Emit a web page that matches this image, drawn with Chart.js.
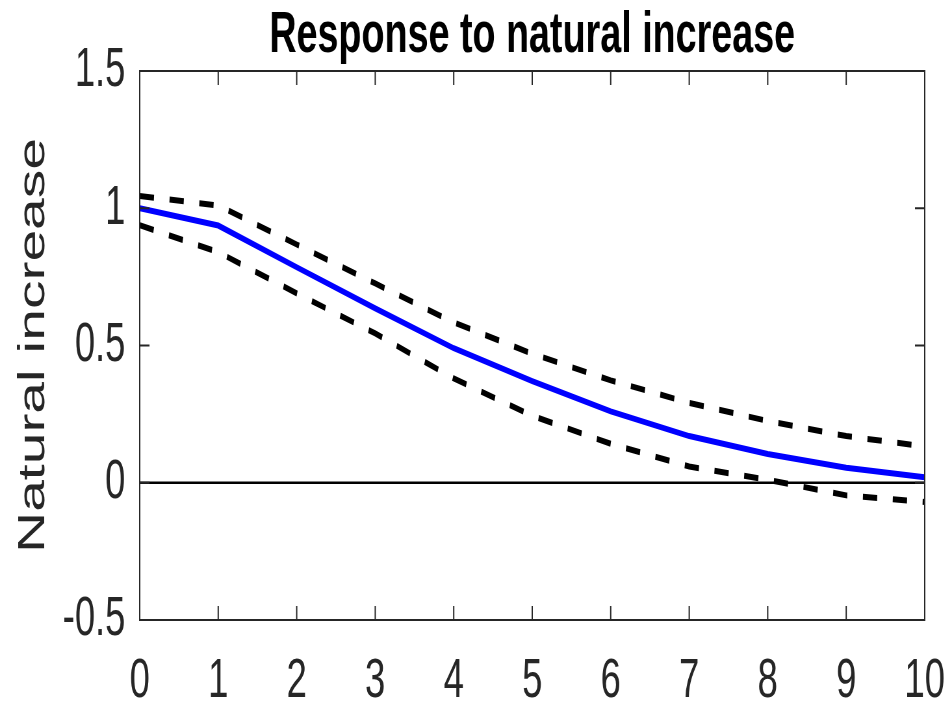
<!DOCTYPE html>
<html>
<head>
<meta charset="utf-8">
<script src="https://cdn.jsdelivr.net/npm/chart.js@4/dist/chart.umd.min.js"></script>
<style>
  html, body { margin: 0; padding: 0; background: #fff; overflow: hidden; }
</style>
</head>
<body>
<!-- the reference is squeezed sideways, so draw wide and shrink it -->
<canvas id="irf" width="1465" height="707" style="display:block;width:952px;height:707px"></canvas>
<script>
const horizon = [0, 1, 2, 3, 4, 5, 6, 7, 8, 9, 10];
const response = [1.0, 0.937, 0.785, 0.635, 0.49, 0.37, 0.26, 0.17, 0.105, 0.055, 0.02];
const upperBand = [1.045, 1.01, 0.868, 0.726, 0.584, 0.47, 0.373, 0.291, 0.225, 0.17, 0.132];
const lowerBand = [0.938, 0.84, 0.69, 0.544, 0.38, 0.244, 0.142, 0.059, 0.011, -0.046, -0.07];
const zeroLine = [0, 0, 0, 0, 0, 0, 0, 0, 0, 0, 0];
const xTicks = [0, 1, 2, 3, 4, 5, 6, 7, 8, 9, 10];
const xTickLabels = ['0', '1', '2', '3', '4', '5', '6', '7', '8', '9', '10'];
const yTicks = [-0.5, 0, 0.5, 1, 1.5];
const yTickLabels = ['-0.5', '0', '0.5', '1', '1.5'];

const chartTitle = 'Response to natural increase';
const yLabel = 'Natural increase';
const FONT = "'Liberation Sans', Arial, sans-serif";
const AXIS_COLOR = '#262626';

const toPoints = vals => horizon.map((h, i) => ({ x: h, y: vals[i] }));

// box round the plot, inward ticks on all sides, and the title
const matlabFrame = {
  id: 'matlabFrame',
  afterDatasetsDraw(chart) {
    const { ctx, chartArea: a, scales } = chart;
    const x = scales.x, y = scales.y;
    ctx.save();
    ctx.strokeStyle = AXIS_COLOR;
    ctx.lineWidth = 2;
    ctx.strokeRect(a.left, a.top, a.right - a.left, a.bottom - a.top);

    ctx.beginPath();
    xTicks.forEach(v => {
      const px = x.getPixelForValue(v);
      ctx.moveTo(px, a.bottom); ctx.lineTo(px, a.bottom - 14);
      ctx.moveTo(px, a.top); ctx.lineTo(px, a.top + 14);
    });
    yTicks.forEach(v => {
      const py = y.getPixelForValue(v);
      ctx.moveTo(a.left, py); ctx.lineTo(a.left + 15, py);
      ctx.moveTo(a.right, py); ctx.lineTo(a.right - 15, py);
    });
    ctx.stroke();

    ctx.fillStyle = '#000';
    ctx.font = 'bold 58px ' + FONT;
    ctx.textAlign = 'center';
    ctx.textBaseline = 'alphabetic';
    ctx.fillText(chartTitle, (a.left + a.right) / 2, 52);
    ctx.restore();
  }
};

const lineStyle = (color, width, dash) => ({
  borderColor: color,
  borderWidth: width,
  borderDash: dash,
  borderCapStyle: 'butt',
  pointRadius: 0,
  fill: false,
  tension: 0
});

new Chart(document.getElementById('irf'), {
  type: 'line',
  data: {
    datasets: [
      { label: 'zero', data: toPoints(zeroLine), ...lineStyle('#000', 2.5, []) },
      { label: 'upper', data: toPoints(upperBand), ...lineStyle('#000', 6, [22, 24]) },
      { label: 'lower', data: toPoints(lowerBand), ...lineStyle('#000', 6, [22, 24]) },
      { label: 'response', data: toPoints(response), ...lineStyle('#0000ff', 6, []) }
    ]
  },
  options: {
    responsive: false,
    animation: false,
    layout: { padding: { top: 71, right: 42, left: 0, bottom: 0 } },
    plugins: {
      legend: { display: false },
      tooltip: { enabled: false },
      title: { display: false }
    },
    scales: {
      x: {
        type: 'linear',
        min: 0,
        max: 10,
        afterBuildTicks: s => { s.ticks = xTicks.map(v => ({ value: v })); },
        afterFit: s => {
          s.height = 87;
          // the "10" label may hang past the plot edge, as in the reference
          s.paddingLeft = 0;
          s.paddingRight = 0;
        },
        grid: { display: false, drawTicks: false },
        border: { display: false },
        ticks: {
          padding: 28,
          maxRotation: 0,
          autoSkip: false,
          color: AXIS_COLOR,
          font: { family: FONT, size: 56, lineHeight: 1.2 },
          callback: (v, i) => xTickLabels[i]
        }
      },
      y: {
        min: -0.5,
        max: 1.5,
        afterBuildTicks: s => { s.ticks = yTicks.map(v => ({ value: v })); },
        afterFit: s => { s.width = 215; },
        grid: { display: false, drawTicks: false },
        border: { display: false },
        ticks: {
          padding: 22,
          autoSkip: false,
          color: AXIS_COLOR,
          font: { family: FONT, size: 56, lineHeight: 1.2 },
          callback: (v, i) => yTickLabels[i]
        },
        title: {
          display: true,
          text: yLabel,
          color: AXIS_COLOR,
          padding: { top: 18, bottom: 0 },
          font: { family: FONT, size: 57, lineHeight: 1.2 }
        }
      }
    }
  },
  plugins: [matlabFrame]
});
</script>
</body>
</html>
